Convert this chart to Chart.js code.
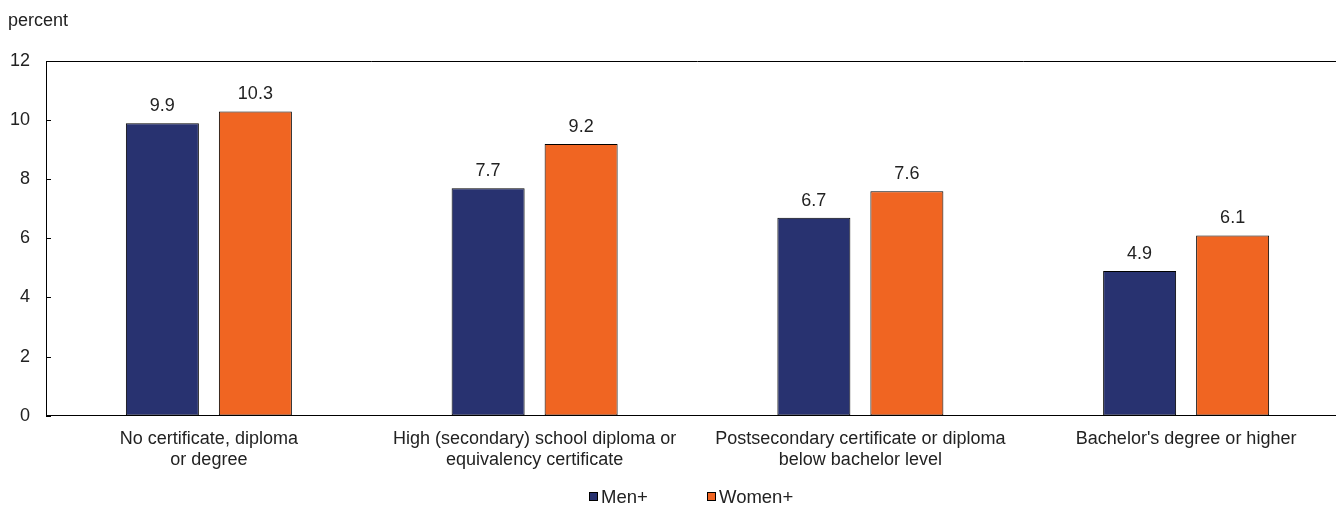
<!DOCTYPE html>
<html>
<head>
<meta charset="utf-8">
<script src="https://cdn.jsdelivr.net/npm/chart.js@4"></script>
<style>
  html, body { margin: 0; padding: 0; background: #fff; overflow: hidden; }
  #clip { width: 1336px; height: 508px; overflow: hidden; }
  #wrap { width: 1349px; height: 508px; }
</style>
</head>
<body>
<div id="clip"><div id="wrap"><canvas id="chart"></canvas></div></div>
<script>
const categories = [
  ['No certificate, diploma', 'or degree'],
  ['High (secondary) school diploma or', 'equivalency certificate'],
  ['Postsecondary certificate or diploma', 'below bachelor level'],
  ["Bachelor's degree or higher"],
];
const men = [9.9, 7.7, 6.7, 4.9];
const women = [10.3, 9.2, 7.6, 6.1];
const yTicks = [0, 2, 4, 6, 8, 10, 12];

const FONT = "'Liberation Sans', Arial, sans-serif";
const TEXT = '#222';

// top frame line, inward tick marks, value labels and the legend
const extras = {
  id: 'extras',
  afterDatasetsDraw(chart) {
    const { ctx, chartArea: a } = chart;
    const y = chart.scales.y;
    ctx.save();
    ctx.strokeStyle = '#000';
    ctx.lineWidth = 1;
    ctx.beginPath();
    ctx.moveTo(a.left, Math.round(a.top) + 0.5);
    ctx.lineTo(a.right, Math.round(a.top) + 0.5);
    yTicks.forEach((v) => {
      const py = Math.round(y.getPixelForValue(v)) + 0.5;
      ctx.moveTo(a.left, py);
      ctx.lineTo(a.left + 5, py);
    });
    ctx.stroke();

    ctx.fillStyle = TEXT;
    ctx.font = '18px ' + FONT;
    ctx.textAlign = 'center';
    ctx.textBaseline = 'alphabetic';
    chart.data.datasets.forEach((ds, i) => {
      chart.getDatasetMeta(i).data.forEach((bar, j) => {
        ctx.fillText(ds.data[j].toFixed(1), bar.x, bar.y - 12);
      });
    });

    // legend
    const legendX = [589, 707];
    const legendY = 497;
    ctx.font = '18.5px ' + FONT;
    ctx.textAlign = 'left';
    ctx.textBaseline = 'middle';
    chart.data.datasets.forEach((ds, i) => {
      const x = legendX[i];
      ctx.fillStyle = ds.backgroundColor;
      ctx.fillRect(x, legendY - 5, 9, 9);
      ctx.strokeStyle = '#000';
      ctx.strokeRect(x + 0.5, legendY - 4.5, 8, 8);
      ctx.fillStyle = TEXT;
      ctx.fillText(ds.label, x + 12, legendY + 1);
    });
    ctx.restore();
  },
};

new Chart(document.getElementById('chart'), {
  type: 'bar',
  data: {
    labels: categories,
    datasets: [
      { label: 'Men+', data: men, backgroundColor: '#283270', borderColor: '#000', borderWidth: 1, borderSkipped: false },
      { label: 'Women+', data: women, backgroundColor: '#F06522', borderColor: '#000', borderWidth: 1, borderSkipped: false },
    ],
  },
  options: {
    responsive: true,
    maintainAspectRatio: false,
    animation: false,
    layout: { padding: { left: 8, right: 0, top: 0, bottom: 25 } },
    datasets: { bar: { categoryPercentage: 0.571, barPercentage: 0.785 } },
    plugins: {
      legend: { display: false },
      title: {
        display: true,
        text: 'percent',
        align: 'start',
        color: TEXT,
        font: { family: FONT, size: 18, weight: 'normal' },
        padding: { top: 10, bottom: 29.6 },
      },
      tooltip: { enabled: false },
    },
    scales: {
      x: {
        grid: { display: false, drawTicks: false },
        border: { display: true, color: '#000', width: 1 },
        ticks: { color: TEXT, font: { family: FONT, size: 18, lineHeight: 1.15 }, padding: 13, maxRotation: 0, autoSkip: false },
      },
      y: {
        min: 0,
        max: 12,
        afterBuildTicks: (s) => { s.ticks = yTicks.map((v) => ({ value: v })); },
        afterFit: (s) => { s.width = 38; },
        grid: { display: false, drawTicks: false },
        border: { display: true, color: '#000', width: 1 },
        ticks: { color: TEXT, font: { family: FONT, size: 18 }, padding: 16 },
      },
    },
  },
  plugins: [extras],
});
</script>
</body>
</html>
